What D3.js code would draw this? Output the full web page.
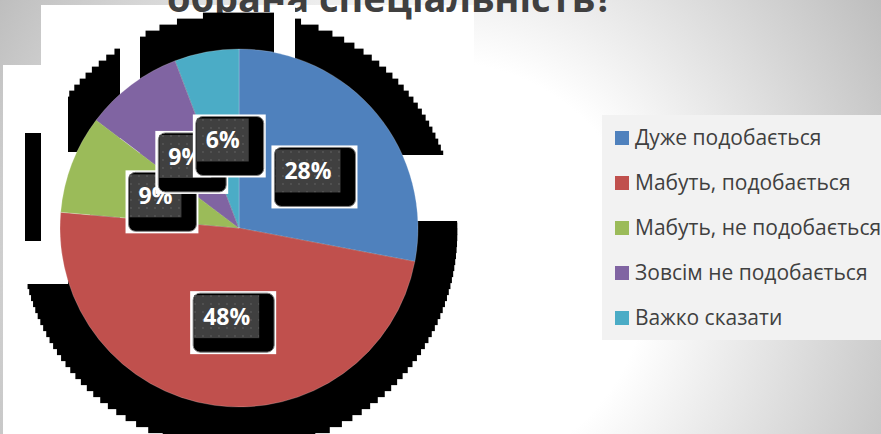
<!DOCTYPE html>
<html>
<head>
<meta charset="utf-8">
<script src="https://cdnjs.cloudflare.com/ajax/libs/d3/7.8.5/d3.min.js"></script>
<style>
  html, body { margin: 0; padding: 0; background: #fff; }
  svg { display: block; }
</style>
</head>
<body>
<div id="chart"></div>
<script>
// data
var categories = ['Дуже подобається', 'Мабуть, подобається', 'Мабуть, не подобається', 'Зовсім не подобається', 'Важко сказати'];
var values = [28.0, 48.4, 8.9, 8.9, 5.8];
var colors = ['#4f81bd', '#c0504d', '#9bbb59', '#8064a2', '#4bacc6'];
var title = 'обрана спеціальність?';

var width = 881;
var height = 434;
var cx = 239, cy = 228;
var radius = 179;
var font = "'Open Sans', 'Noto Sans', sans-serif";

var svg = d3.select('#chart')
  .append('svg')
  .attr('width', width)
  .attr('height', height);

var defs = svg.append('defs');

// slide background
var bg = defs.append('radialGradient')
  .attr('id', 'bg')
  .attr('gradientUnits', 'userSpaceOnUse')
  .attr('cx', 440).attr('cy', 270).attr('r', 520);
bg.append('stop').attr('offset', 0).attr('stop-color', '#ffffff');
bg.append('stop').attr('offset', 0.4).attr('stop-color', '#ffffff');
bg.append('stop').attr('offset', 1).attr('stop-color', '#bdbdbd');

// dotted fill of the label boxes
var dots = defs.append('pattern')
  .attr('id', 'dots')
  .attr('patternUnits', 'userSpaceOnUse')
  .attr('width', 8).attr('height', 8);
dots.append('rect').attr('width', 8).attr('height', 8).attr('fill', '#404040');
dots.append('circle').attr('cx', 4).attr('cy', 4).attr('r', 0.9).attr('fill', '#585858');

svg.append('rect')
  .attr('width', width).attr('height', height)
  .attr('fill', 'url(#bg)');

// white chart area
svg.append('path')
  .attr('d', 'M3,65 L41,65 L41,5 L474,5 L474,434 L3,434 Z')
  .attr('fill', '#fff');

// title (only the bottom of it is on screen)
svg.append('text')
  .attr('x', 390).attr('y', 12)
  .attr('text-anchor', 'middle')
  .style('font-family', font)
  .style('font-weight', 'bold')
  .style('font-size', '38px')
  .attr('fill', '#404040')
  .text(title);

// shadow: blocky disc behind the pie, with some gaps
var shadowR = radius * 1.22;
var shadowCy = cy + 3;
var step = 6;
var rows = d3.range(shadowCy - shadowR, shadowCy + shadowR, step);
var shadow = svg.append('g').attr('class', 'shadow');
shadow.selectAll('rect.row')
  .data(rows)
  .enter()
  .append('rect')
  .attr('class', 'row')
  .attr('x', function (y) {
    var m = Math.abs(y + step / 2 - shadowCy);
    return cx - Math.sqrt(Math.max(0, shadowR * shadowR - m * m));
  })
  .attr('y', function (y) {return y;})
  .attr('width', function (y) {
    var m = Math.abs(y + step / 2 - shadowCy);
    return 2 * Math.sqrt(Math.max(0, shadowR * shadowR - m * m));
  })
  .attr('height', step + 0.5)
  .attr('fill', '#000');

shadow.append('rect')
  .attr('x', 25).attr('y', 133).attr('width', 16).attr('height', 108)
  .attr('fill', '#000');

var gaps = [
  [274, 5, 21, 225],
  [120, 5, 20, 225],
  [41, 5, 27, 279],
  [3, 65, 22, 219],
  [3, 241, 59, 43],
  [62, 152, 28, 78],
  [400, 155, 74, 66]
];
shadow.selectAll('rect.gap')
  .data(gaps)
  .enter()
  .append('rect')
  .attr('class', 'gap')
  .attr('x', function (d) {return d[0];})
  .attr('y', function (d) {return d[1];})
  .attr('width', function (d) {return d[2];})
  .attr('height', function (d) {return d[3];})
  .attr('fill', '#fff');

// pie
var pie = d3.pie().sort(null).value(function (d) {return d;});
var arcs = pie(values);
var arc = d3.arc().innerRadius(0).outerRadius(radius);

var plot = svg.append('g')
  .attr('transform', 'translate(' + cx + ',' + cy + ')');

plot.selectAll('path.slice')
  .data(arcs)
  .enter()
  .append('path')
  .attr('class', 'slice')
  .attr('d', arc)
  .attr('fill', function (d, i) {return colors[i];})
  .attr('stroke', '#ffffff')
  .attr('stroke-opacity', 0.35)
  .attr('stroke-width', 0.6);

// labels
var labels = plot.selectAll('g.label')
  .data(arcs)
  .enter()
  .append('g')
  .attr('class', 'label');

labels.each(function (d) {
  var g = d3.select(this);
  var c = arc.centroid(d);
  var t = g.append('text')
    .attr('x', c[0]).attr('y', c[1])
    .attr('dy', '0.36em')
    .attr('text-anchor', 'middle')
    .style('font-family', font)
    .style('font-weight', 'bold')
    .style('font-size', '23px')
    .attr('fill', '#fff')
    .text(Math.round(d.value) + '%');
  var tw = t.node().getComputedTextLength();
  var dw = tw + 18, dh = 43;
  var dx = c[0] - dw / 2, dy = c[1] - dh / 2;

  g.insert('rect', 'text')
    .attr('x', dx - 4).attr('y', dy - 4)
    .attr('width', dw + 21).attr('height', dh + 20)
    .attr('fill', '#fff');
  g.insert('rect', 'text')
    .attr('x', dx - 1).attr('y', dy - 2)
    .attr('width', dw + 16).attr('height', dh + 16)
    .attr('rx', 7)
    .attr('fill', '#000')
    .attr('stroke', '#7f7f7f')
    .attr('stroke-width', 1);
  g.insert('rect', 'text')
    .attr('x', dx).attr('y', dy)
    .attr('width', dw).attr('height', dh)
    .attr('fill', 'url(#dots)');
});

// legend
var legend = svg.append('g');
legend.append('rect')
  .attr('x', 602).attr('y', 115)
  .attr('width', 279).attr('height', 225)
  .attr('fill', '#f2f2f2');

var items = legend.selectAll('g.item')
  .data(categories)
  .enter()
  .append('g')
  .attr('class', 'item')
  .attr('transform', function (d, i) {return 'translate(615,' + (138 + i * 45) + ')';});

items.append('rect')
  .attr('x', 0).attr('y', -7)
  .attr('width', 14).attr('height', 14)
  .attr('fill', function (d, i) {return colors[i];});

items.append('text')
  .attr('x', 20).attr('y', 0)
  .attr('dy', '0.35em')
  .style('font-family', font)
  .style('font-size', '21px')
  .attr('fill', '#404040')
  .text(function (d) {return d;});
</script>
</body>
</html>
